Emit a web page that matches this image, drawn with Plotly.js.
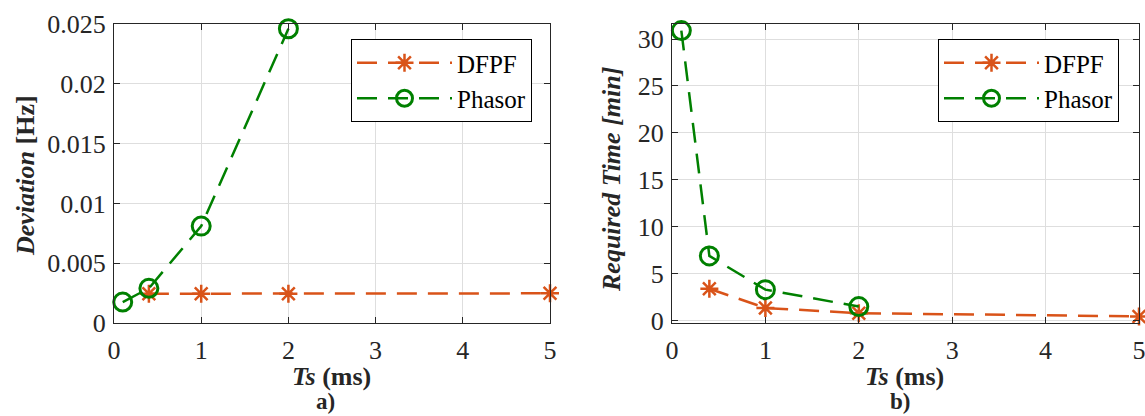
<!DOCTYPE html>
<html>
<head>
<meta charset="utf-8">
<script src="https://cdn.plot.ly/plotly-3.0.1.min.js"></script>
<style>html,body{margin:0;padding:0;background:#fff;}#chart{width:1145px;height:416px;}</style>
</head>
<body>
<div id="chart"></div>
<script>
// ---- data ----
const tsDFPF = [0.4, 1, 2, 5];
const tsPhasor = [0.1, 0.4, 1, 2];
const devDFPF = [0.00245, 0.00245, 0.00245, 0.00248];
const devPhasor = [0.00175, 0.0029, 0.0081, 0.0246];
const timeDFPF = [3.4, 1.35, 0.8, 0.45];
const timePhasor = [30.9, 6.9, 3.3, 1.5];
const xTickVals = [0, 1, 2, 3, 4, 5];
const devTickVals = [0, 0.005, 0.01, 0.015, 0.02, 0.025];
const devTickText = ['0', '0.005', '0.01', '0.015', '0.02', '0.025'];
const timeTickVals = [0, 5, 10, 15, 20, 25, 30];
const seriesNames = ['DFPF', 'Phasor'];

const ORANGE = '#D95319';
const GREEN = '#008000';
const FONT = 'Liberation Serif';
const DASH = '20px,11px';

function dfpfTrace(x, y, xa, ya, lg) {
  return {x: x, y: y, xaxis: xa, yaxis: ya, legend: lg, name: seriesNames[0],
    mode: 'lines+markers', cliponaxis: false,
    line: {color: ORANGE, width: 2.5, dash: DASH},
    marker: {symbol: 'asterisk-open', size: 15, color: ORANGE, line: {color: ORANGE, width: 2.5}}};
}
function phasorTrace(x, y, xa, ya, lg) {
  return {x: x, y: y, xaxis: xa, yaxis: ya, legend: lg, name: seriesNames[1],
    mode: 'lines+markers', cliponaxis: false,
    line: {color: GREEN, width: 2.5, dash: DASH},
    marker: {symbol: 'circle-open', size: 18, color: GREEN, line: {color: GREEN, width: 3}}};
}

const data = [
  dfpfTrace(tsDFPF, devDFPF, 'x', 'y', 'legend'),
  phasorTrace(tsPhasor, devPhasor, 'x', 'y', 'legend'),
  dfpfTrace(tsDFPF, timeDFPF, 'x2', 'y2', 'legend2'),
  phasorTrace(tsPhasor, timePhasor, 'x2', 'y2', 'legend2')
];

const axisCommon = {
  showline: true, linecolor: '#262626', linewidth: 1, mirror: 'ticks',
  ticks: 'inside', ticklen: 6, tickcolor: '#262626', tickwidth: 1,
  showgrid: true, gridcolor: '#dedede', gridwidth: 1, zeroline: false,
  ticklabeloverflow: 'allow',
  tickfont: {family: FONT, size: 26, color: '#262626'}, fixedrange: true
};
const xAxisExtra = {ticklabelstandoff: 4};
const yAxisExtra = {ticklabelstandoff: 2};

const legendCommon = {
  font: {family: FONT, size: 25, color: '#000'},
  bgcolor: '#ffffff', bordercolor: '#000', borderwidth: 1,
  xanchor: 'right', yanchor: 'top', tracegroupgap: 0, itemwidth: 95
};

function label(text, x, y, size, angle) {
  return {text: text, xref: 'paper', yref: 'paper', x: x / 1145, y: (416 - y) / 416,
    xanchor: 'center', yanchor: 'middle', textangle: angle || 0, showarrow: false,
    font: {family: FONT, size: size, color: '#262626'}};
}

const layout = {
  width: 1145, height: 416,
  margin: {l: 0, r: 0, t: 0, b: 0},
  paper_bgcolor: '#fff', plot_bgcolor: '#fff',
  showlegend: true,
  font: {family: FONT},
  xaxis: Object.assign({}, axisCommon, xAxisExtra, {domain: [114/1145, 550/1145], anchor: 'y', range: [0, 5],
    tickvals: xTickVals}),
  yaxis: Object.assign({}, axisCommon, yAxisExtra, {domain: [93/416, 392/416], anchor: 'x', range: [0, 0.025],
    tickvals: devTickVals, ticktext: devTickText}),
  xaxis2: Object.assign({}, axisCommon, xAxisExtra, {domain: [672/1145, 1139/1145], anchor: 'y2', range: [0, 5],
    tickvals: xTickVals}),
  yaxis2: Object.assign({}, axisCommon, yAxisExtra, {domain: [93/416, 392/416], anchor: 'x2', range: [-0.25, 31.6],
    tickvals: timeTickVals}),
  legend: Object.assign({}, legendCommon, {x: 532/1145, y: (416-39)/416}),
  legend2: Object.assign({}, legendCommon, {x: 1119/1145, y: (416-39)/416}),
  annotations: [
    label('<b><i>Deviation</i> [Hz]</b>', 25, 176, 26, -90),
    label('<b><i>Required Time [min]</i></b>', 611, 180, 26, -90),
    label('<b><i>Ts</i> (ms)</b>', 331, 376, 26),
    label('<b><i>Ts</i> (ms)</b>', 904, 376, 26),
    label('<b>a)</b>', 325, 401, 23),
    label('<b>b)</b>', 900, 401, 23)
  ]
};

Plotly.newPlot('chart', data, layout, {displayModeBar: false, staticPlot: true});
</script>
</body>
</html>
